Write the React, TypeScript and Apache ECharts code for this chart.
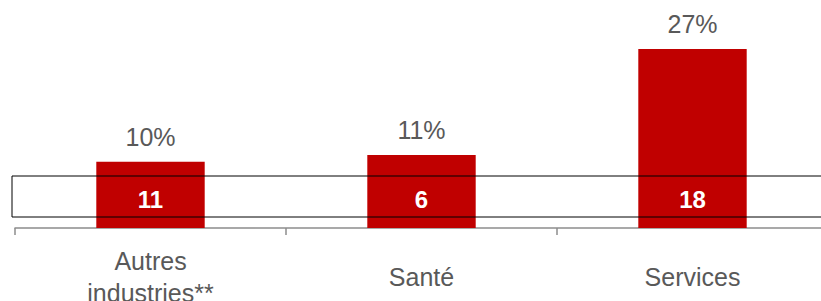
import React, { useEffect, useRef } from "react";
import * as echarts from "echarts";

const categories = ["Autres\nindustries**", "Santé", "Services"];
const percentValues = [10, 11, 27];
const countValues = [11, 6, 18];

export default function App() {
  const ref = useRef<HTMLDivElement>(null);
  useEffect(() => {
    document.body.style.margin = "0";
    const chart = echarts.init(ref.current!, null, { renderer: "svg" });
    chart.setOption({
      animation: false,
      grid: {
        left: 15,
        right: -7,
        top: 29,
        bottom: 73,
        containLabel: false,
        outerBoundsMode: "none",
      },
      xAxis: {
        type: "category",
        data: categories,
        axisLine: { lineStyle: { color: "#8c8c8c", width: 1.5 } },
        axisTick: { show: true, length: 7, lineStyle: { color: "#8c8c8c", width: 1.5 } },
        axisLabel: {
          color: "#595959",
          fontFamily: "Liberation Sans, Arial, sans-serif",
          fontSize: 25,
          lineHeight: 32,
          verticalAlign: "middle",
          margin: 49,
          interval: 0,
        },
      },
      yAxis: { type: "value", min: 0, max: 30, show: false, splitLine: { show: false } },
      series: [
        {
          type: "bar",
          data: percentValues,
          barWidth: "40%",
          itemStyle: { color: "#C00000" },
          label: {
            show: true,
            position: "top",
            distance: 12,
            color: "#595959",
            fontFamily: "Liberation Sans, Arial, sans-serif",
            fontSize: 25,
            lineHeight: 26,
            formatter: (p: any) => `${p.value}%`,
          },
        },
        {
          type: "bar",
          data: percentValues,
          barWidth: "40%",
          barGap: "-100%",
          itemStyle: { color: "rgba(0,0,0,0)" },
          label: {
            show: true,
            position: "insideBottom",
            distance: 17,
            color: "#ffffff",
            fontWeight: "bold",
            fontFamily: "Liberation Sans, Arial, sans-serif",
            fontSize: 24,
            lineHeight: 24,
            formatter: (p: any) => `${countValues[p.dataIndex]}`,
          },
        },
      ],
      graphic: [
        {
          type: "rect",
          z: 100,
          shape: { x: 12, y: 176, width: 820, height: 41 },
          style: { fill: "none", stroke: "#000000", lineWidth: 1 },
        },
      ],
    });
    return () => chart.dispose();
  }, []);
  return (
    <div
      ref={ref}
      style={{ position: "absolute", left: 0, top: 0, width: 821, height: 301 }}
    />
  );
}
